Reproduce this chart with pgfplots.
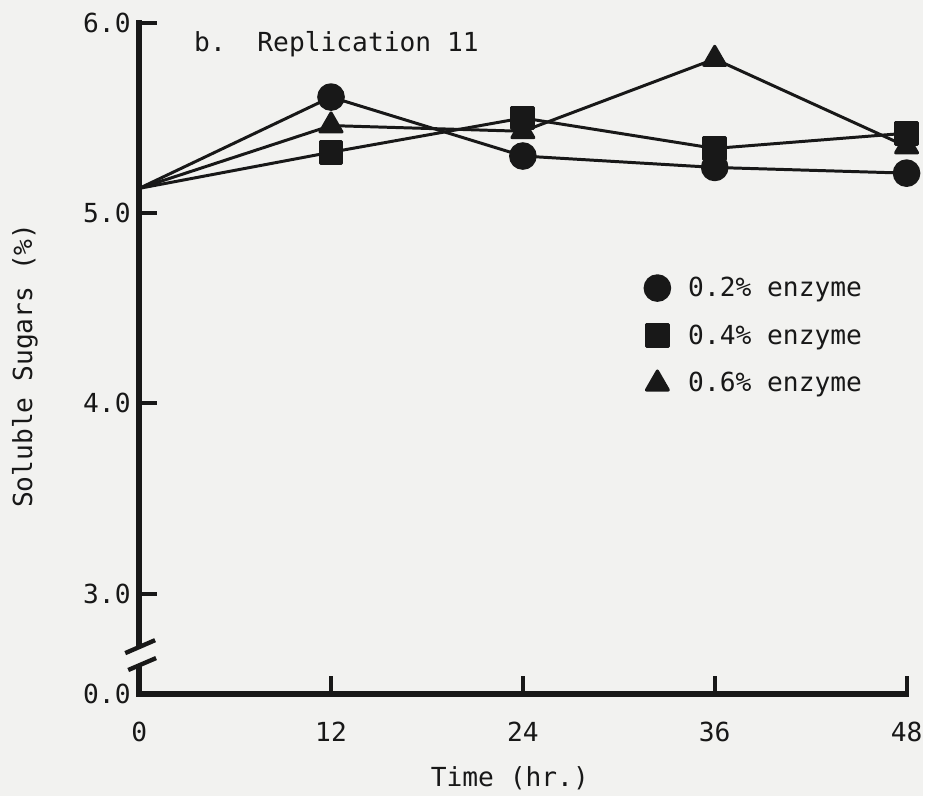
\documentclass[border=0pt]{standalone}
\usepackage{fontspec}
\setmainfont{DejaVu Sans Mono}
\usepackage{pgfplots}
\usepackage{pgfplotstable}
\pgfplotsset{compat=1.18}

\definecolor{paper}{RGB}{242,242,240}
\definecolor{ink}{RGB}{24,24,24}

% Soluble sugars (%) against incubation time (hr.)
\pgfplotstableread{
t   e2    e4    e6
0   5.13  5.13  5.13
12  5.61  5.32  5.46
24  5.30  5.50  5.43
36  5.24  5.34  5.81
48  5.21  5.42  5.35
}\sugars

\begin{document}
\begin{tikzpicture}[font=\fontsize{13.2}{16}\selectfont, text=ink]
\fill[paper] (-70pt,-51.5pt) rectangle (394.5pt,349pt);
\begin{axis}[
  at={(0pt,0pt)}, anchor=south west,
  scale only axis, width=386pt, height=337.5pt,
  xmin=0, xmax=48, ymin=2.473, ymax=6,
  axis x line=bottom, axis y line=left,
  axis line style={-, line width=2.8pt, draw=ink, line cap=rect},
  tick align=inside, major tick length=9pt,
  tick style={line width=2pt, draw=ink},
  xtick={0,12,24,36,48}, xticklabels={0,12,24,36,48},
  ytick={2.473,3,4,5,6}, yticklabels={0.0,3.0,4.0,5.0,6.0},
  xticklabel style={yshift=-10.5pt},
  yticklabel style={xshift=-0.8pt},
  xlabel={Time (hr.)},
  xlabel style={at={(axis description cs:0.483,-0.126)}, anchor=center},
  ylabel={Soluble Sugars (\%)},
  ylabel style={at={(axis description cs:-0.149,0.489)}, anchor=center},
  legend image code/.code={\draw[#1] plot[only marks] coordinates {(0pt,0pt)};},
  legend style={draw=none, fill=none, inner sep=0pt,
    at={(axis description cs:0.6587,0.628)}, anchor=north west,
    row sep=8.75pt, /tikz/every odd column/.append style={column sep=7.3pt}},
  legend cell align=left,
  every axis plot/.append style={draw=ink, line width=1.5pt, line join=round},
]
% no marker at time zero, where the three series share one starting value
\addplot[forget plot, mark indices={2,3,4,5}, mark=*, mark size=6.2pt,
  mark options={draw=none, fill=ink}]
  table[x=t, y=e2] {\sugars};
\addplot[forget plot, mark indices={2,3,4,5}, mark=triangle*, mark size=6.4pt,
  mark options={draw=none, fill=ink}]
  table[x=t, y=e6] {\sugars};
\addplot[forget plot, mark indices={2,3,4,5}, mark=square*, mark size=5.5pt,
  mark options={draw=none, fill=ink, rounded corners=1pt}]
  table[x=t, y=e4] {\sugars};

\addlegendimage{mark=*, mark size=6.2pt, mark options={draw=none, fill=ink}}
\addlegendentry{0.2\% enzyme}
\addlegendimage{mark=square*, mark size=5.5pt, mark options={draw=none, fill=ink, rounded corners=1pt}}
\addlegendentry{0.4\% enzyme}
\addlegendimage{mark=triangle*, mark size=6.4pt, mark options={draw=none, fill=ink}}
\addlegendentry{0.6\% enzyme}
\end{axis}

% break in the vertical axis
\fill[paper] (-2.5pt,15pt) rectangle (2.5pt,23pt);
\draw[ink, line width=2.2pt] (-7pt,20.5pt) -- (8pt,27pt);
\draw[ink, line width=2.2pt] (-5.5pt,12pt) -- (8.5pt,18pt);

% panel heading
\node[anchor=base west, inner sep=0pt] at (27.5pt,323pt) {b.\ \ Replication 11};
\end{tikzpicture}
\end{document}
